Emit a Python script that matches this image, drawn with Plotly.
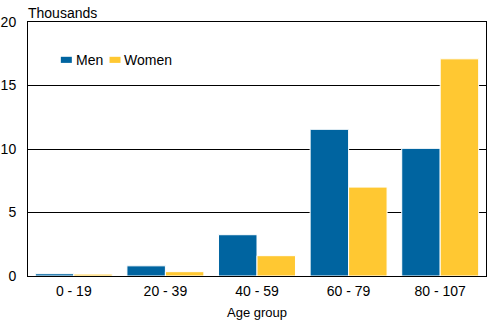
import plotly.graph_objects as go

categories = ["0 - 19", "20 - 39", "40 - 59", "60 - 79", "80 - 107"]
men = [0.18, 0.8, 3.25, 11.55, 10.05]
women = [0.15, 0.34, 1.6, 7.0, 17.1]
series_names = ["Men", "Women"]
colors = ["#0064A0", "#FFC832"]

fig = go.Figure()
for name, vals, col in zip(series_names, [men, women], colors):
    fig.add_trace(go.Bar(x=categories, y=vals, name=name, showlegend=False,
                         marker=dict(color=col, line=dict(color="white", width=1))))

# custom legend (swatch + label), placed in paper coordinates
shapes = []
annotations = []
legend_x = [0.0717, 0.178]
for lx, name, col in zip(legend_x, series_names, colors):
    shapes.append(dict(type="rect", xref="paper", yref="paper",
                       x0=lx, x1=lx + 0.024, y0=0.839, y1=0.863,
                       fillcolor=col, line=dict(width=0)))
    annotations.append(dict(text=name, xref="paper", yref="paper",
                            x=lx + 0.028, y=0.851, xanchor="left", yanchor="middle",
                            showarrow=False, font=dict(size=14)))
annotations.append(dict(text="Thousands", x=0, xref="paper", xanchor="left", xshift=-2,
                        y=1, yref="paper", yanchor="bottom", yshift=-1, showarrow=False,
                        font=dict(size=14)))

fig.update_layout(
    width=488, height=321,
    margin=dict(l=27, r=1, t=22, b=45),
    paper_bgcolor="white", plot_bgcolor="white",
    font=dict(family="Liberation Sans, Arial, sans-serif", size=14, color="black"),
    barmode="group", bargap=0.16, bargroupgap=0.0,
    showlegend=False,
    xaxis=dict(showline=True, linecolor="black", linewidth=1, mirror=True,
               ticks="", tickfont=dict(size=14), ticklabelstandoff=2,
               title=dict(text="Age group", font=dict(size=13), standoff=10)),
    yaxis=dict(range=[0, 20], tickvals=[0, 5, 10, 15, 20],
               showgrid=True, gridcolor="black", gridwidth=1,
               showline=True, linecolor="black", linewidth=1, mirror=True,
               ticks="", tickfont=dict(size=14), zeroline=False,
               ticklabelstandoff=8),
    shapes=shapes,
    annotations=annotations,
)
fig.write_html("out.html")
